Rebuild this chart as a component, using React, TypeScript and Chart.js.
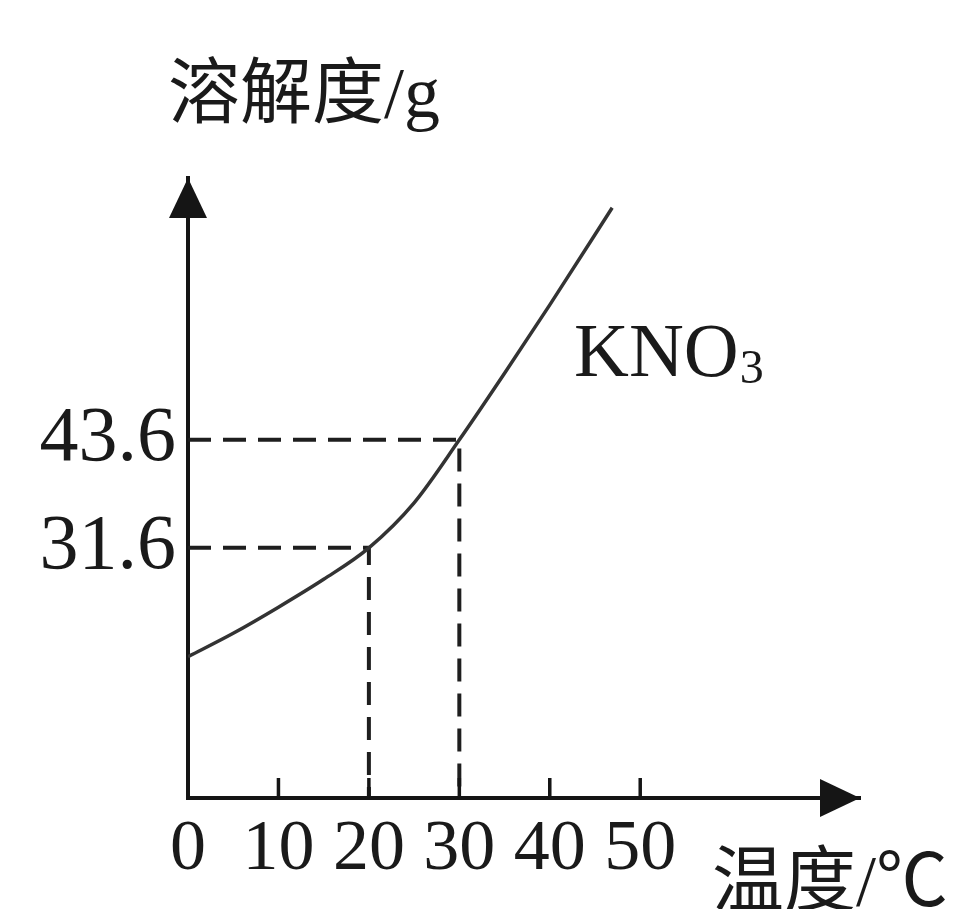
import React, { useEffect, useRef } from "react";
import { Chart, registerables } from "chart.js";

Chart.register(...registerables);

// Solubility curve of KNO3
const temperatures = [0, 5, 10, 15, 20, 25, 30, 35, 40, 46.9];
const solubility = [19.5, 22.1, 25.0, 28.1, 31.6, 36.6, 43.6, 51.0, 58.6, 69.4];

// Axis ticks
const xTickValues = [0, 10, 20, 30, 40, 50];
const yTickValues = [31.6, 43.6];

// Marked points (dashed guides)
const markedTemps = [20, 30];
const markedSolubility = [31.6, 43.6];

// Texts
const yAxisTitle = "溶解度/g";
const xAxisTitle = "温度/℃";
const curveLabel = "KNO";
const curveLabelSub = "3";

// Axis ranges
const X_MIN = 0;
const X_MAX = 74.3;
const Y_MIN = 3.8;
const Y_MAX = 72.7;

const W = 962;
const H = 909;

const AXIS_COLOR = "#151515";
const SERIF = '"Liberation Serif", "Times New Roman", serif';
const MIXED = '"Liberation Serif", "Noto Sans CJK SC", serif';

const decorPlugin = {
  id: "decor",
  afterDraw(chart: any) {
    const { ctx, chartArea } = chart;
    const xs = chart.scales.x;
    const { left, right, top, bottom } = chartArea;
    ctx.save();
    ctx.fillStyle = AXIS_COLOR;
    // y arrow
    ctx.beginPath();
    ctx.moveTo(left, top);
    ctx.lineTo(left - 19, top + 40);
    ctx.lineTo(left + 19, top + 40);
    ctx.closePath();
    ctx.fill();
    // x arrow
    ctx.beginPath();
    ctx.moveTo(right, bottom);
    ctx.lineTo(right - 40, bottom - 19);
    ctx.lineTo(right - 40, bottom + 19);
    ctx.closePath();
    ctx.fill();
    // inner tick marks
    ctx.strokeStyle = AXIS_COLOR;
    ctx.lineWidth = 3.5;
    xTickValues.forEach((v) => {
      if (v === X_MIN) return;
      const px = xs.getPixelForValue(v);
      ctx.beginPath();
      ctx.moveTo(px, bottom);
      ctx.lineTo(px, bottom - 20);
      ctx.stroke();
    });
    // texts
    ctx.fillStyle = "#1a1a1a";
    ctx.textBaseline = "alphabetic";
    ctx.textAlign = "left";
    ctx.font = `72px ${MIXED}`;
    ctx.fillText(yAxisTitle, 168, 117);
    ctx.fillText(xAxisTitle, 712, 905);
    ctx.font = `76px ${SERIF}`;
    ctx.fillText(curveLabel, 574, 376);
    const w = ctx.measureText(curveLabel).width;
    ctx.font = `48px ${SERIF}`;
    ctx.fillText(curveLabelSub, 574 + w + 1, 383);
    ctx.restore();
  },
};

export default function App() {
  const canvasRef = useRef<HTMLCanvasElement | null>(null);

  useEffect(() => {
    const canvas = canvasRef.current;
    if (!canvas) return;

    const curve = temperatures.map((t, i) => ({ x: t, y: solubility[i] }));
    const guides = markedTemps.map((t, i) => ({
      type: "line" as const,
      data: [
        { x: X_MIN, y: markedSolubility[i] },
        { x: t, y: markedSolubility[i] },
        { x: t, y: Y_MIN },
      ],
      borderColor: "#1e1e1e",
      borderWidth: 4,
      borderDash: [23, 12],
      pointRadius: 0,
      tension: 0,
      fill: false,
    }));

    const chart = new Chart(canvas, {
      type: "line",
      data: {
        datasets: [
          {
            label: "KNO3",
            data: curve,
            borderColor: "#333",
            borderWidth: 3.5,
            pointRadius: 0,
            cubicInterpolationMode: "monotone",
            fill: false,
          },
          ...guides,
        ],
      },
      options: {
        responsive: false,
        animation: false,
        devicePixelRatio: 1,
        layout: { padding: { left: 0, right: W - 860, top: 178, bottom: 0 } },
        plugins: {
          legend: { display: false },
          tooltip: { enabled: false },
          title: { display: false },
        },
        scales: {
          x: {
            type: "linear",
            min: X_MIN,
            max: X_MAX,
            afterBuildTicks: (scale: any) => {
              scale.ticks = xTickValues.map((v) => ({ value: v }));
            },
            afterFit: (scale: any) => {
              scale.height = H - 798;
            },
            ticks: {
              autoSkip: false,
              maxRotation: 0,
              padding: 9,
              color: "#1a1a1a",
              font: { family: SERIF, size: 72 },
              callback: (v: any) => String(v),
            },
            grid: { display: true, drawOnChartArea: false, drawTicks: false, color: "rgba(0,0,0,0)" },
            border: { display: true, color: AXIS_COLOR, width: 4 },
          },
          y: {
            type: "linear",
            min: Y_MIN,
            max: Y_MAX,
            afterBuildTicks: (scale: any) => {
              scale.ticks = yTickValues.map((v) => ({ value: v }));
            },
            afterFit: (scale: any) => {
              scale.width = 188;
            },
            ticks: {
              autoSkip: false,
              padding: 12,
              color: "#1a1a1a",
              font: { family: SERIF, size: 78 },
              callback: (v: any) => Number(v).toFixed(1),
            },
            grid: { display: true, drawOnChartArea: false, drawTicks: false, color: "rgba(0,0,0,0)" },
            border: { display: true, color: AXIS_COLOR, width: 4 },
          },
        },
      },
      plugins: [decorPlugin],
    });

    return () => chart.destroy();
  }, []);

  return (
    <div style={{ position: "fixed", left: 0, top: 0, width: W, height: H, background: "#fff" }}>
      <canvas ref={canvasRef} width={W} height={H} style={{ display: "block", width: W, height: H }} />
    </div>
  );
}
